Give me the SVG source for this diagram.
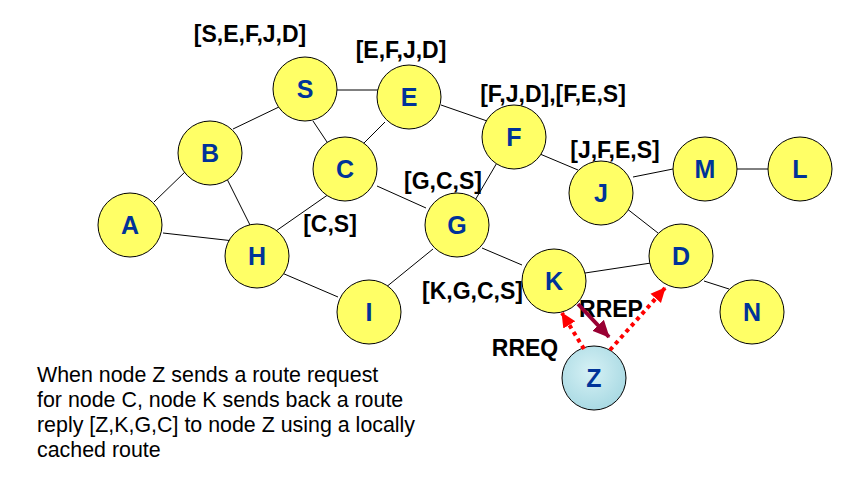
<svg xmlns="http://www.w3.org/2000/svg" width="859" height="483" viewBox="0 0 859 483">
<style>
.n circle{fill:#ffff66;stroke:#000;stroke-width:1}
.n text{font-family:"Liberation Sans",Arial,sans-serif;font-weight:bold;font-size:25px;fill:#003399;text-anchor:middle}
.e line{stroke:#000;stroke-width:1}
.lbl{font-family:"Liberation Sans",Arial,sans-serif;font-weight:bold;font-size:23px;fill:#000;text-anchor:middle}
.desc{font-family:"Liberation Sans",Arial,sans-serif;font-size:21.4px;fill:#000}
.req{stroke:#ff0000;stroke-width:4;stroke-dasharray:4 4;fill:none}
.rep{stroke:#990033;stroke-width:4;fill:none}
</style>
<defs>
<marker id="ar" markerUnits="userSpaceOnUse" markerWidth="16" markerHeight="16" viewBox="0 0 16 16" refX="14" refY="8" orient="auto">
<path d="M0,1 L15,8 L0,15 Z" fill="#ff0000"/>
</marker>
<marker id="ad" markerUnits="userSpaceOnUse" markerWidth="18" markerHeight="18" viewBox="0 0 18 18" refX="16" refY="9" orient="auto">
<path d="M0,1 L17,9 L0,17 Z" fill="#990033"/>
</marker>
<radialGradient id="zg" cx="0.45" cy="0.4" r="0.65">
<stop offset="0" stop-color="#d6f1f5"/>
<stop offset="1" stop-color="#a6d8e2"/>
</radialGradient>
</defs>

<g id="edges" class="e">
<line x1="337" y1="90" x2="378" y2="90"/>
<line x1="281" y1="106" x2="233" y2="129"/>
<line x1="313" y1="121" x2="329" y2="145"/>
<line x1="385" y1="122" x2="362" y2="145"/>
<line x1="441" y1="105" x2="490" y2="122"/>
<line x1="187" y1="170" x2="154" y2="202"/>
<line x1="226" y1="177" x2="250" y2="225"/>
<line x1="163" y1="233" x2="234" y2="241"/>
<line x1="329" y1="194" x2="273" y2="233"/>
<line x1="377" y1="186" x2="426" y2="208"/>
<line x1="282" y1="273" x2="338" y2="297"/>
<line x1="385" y1="288" x2="433" y2="249"/>
<line x1="498" y1="161" x2="474" y2="202"/>
<line x1="540" y1="154" x2="578" y2="170"/>
<line x1="482" y1="248" x2="522" y2="265"/>
<line x1="626" y1="208" x2="658" y2="233"/>
<line x1="585" y1="273" x2="651" y2="263"/>
<line x1="633" y1="177" x2="673" y2="169"/>
<line x1="736" y1="169" x2="769" y2="169"/>
<line x1="704" y1="281" x2="729" y2="289"/>
</g>

<g id="labels">
<text class="lbl" x="250" y="42">[S,E,F,J,D]</text>
<text class="lbl" x="401" y="58">[E,F,J,D]</text>
<text class="lbl" x="553" y="102">[F,J,D],[F,E,S]</text>
<text class="lbl" x="615" y="158">[J,F,E,S]</text>
<text class="lbl" x="443" y="189">[G,C,S]</text>
<text class="lbl" x="330" y="232">[C,S]</text>
<text class="lbl" x="523" y="299" style="text-anchor:end">[K,G,C,S]</text>
<text class="lbl" x="611" y="317">RREP</text>
<text class="lbl" x="525" y="356">RREQ</text>
</g>

<g id="node-S" class="n"><circle cx="305" cy="89" r="32"/><text x="305" y="98">S</text></g>
<g id="node-E" class="n"><circle cx="409" cy="97" r="32"/><text x="409" y="106">E</text></g>
<g id="node-B" class="n"><circle cx="210" cy="153" r="32"/><text x="210" y="162">B</text></g>
<g id="node-A" class="n"><circle cx="130" cy="225" r="32"/><text x="130" y="234">A</text></g>
<g id="node-C" class="n"><circle cx="345" cy="169" r="32"/><text x="345" y="178">C</text></g>
<g id="node-H" class="n"><circle cx="257" cy="256" r="32"/><text x="257" y="265">H</text></g>
<g id="node-I" class="n"><circle cx="369" cy="312" r="32"/><text x="369" y="321">I</text></g>
<g id="node-F" class="n"><circle cx="514" cy="137" r="32"/><text x="514" y="146">F</text></g>
<g id="node-G" class="n"><circle cx="457" cy="225" r="32"/><text x="457" y="234">G</text></g>
<g id="node-J" class="n"><circle cx="601" cy="193" r="32"/><text x="601" y="202">J</text></g>
<g id="node-M" class="n"><circle cx="705" cy="169" r="32"/><text x="705" y="178">M</text></g>
<g id="node-L" class="n"><circle cx="800" cy="169" r="32"/><text x="800" y="178">L</text></g>
<g id="node-D" class="n"><circle cx="681" cy="256" r="32"/><text x="681" y="265">D</text></g>
<g id="node-N" class="n"><circle cx="752" cy="312" r="32"/><text x="752" y="321">N</text></g>
<g id="node-K" class="n"><circle cx="554" cy="281" r="32"/><text x="554" y="290">K</text></g>
<g id="node-Z" class="n"><circle cx="594" cy="378" r="32" style="fill:url(#zg)"/><text x="594" y="387">Z</text></g>

<g id="arrows">
<line class="req" x1="584" y1="349" x2="562" y2="313" marker-end="url(#ar)"/>
<line class="req" x1="610" y1="350" x2="665" y2="288" marker-end="url(#ar)"/>
<line class="rep" x1="578" y1="304" x2="609" y2="337" marker-end="url(#ad)"/>
</g>

<g id="description">
<text class="desc" x="37" y="382">When node Z sends a route request</text>
<text class="desc" x="37" y="407">for node C, node K sends back a route</text>
<text class="desc" x="37" y="432">reply [Z,K,G,C] to node Z using a locally</text>
<text class="desc" x="37" y="457">cached route</text>
</g>
</svg>
